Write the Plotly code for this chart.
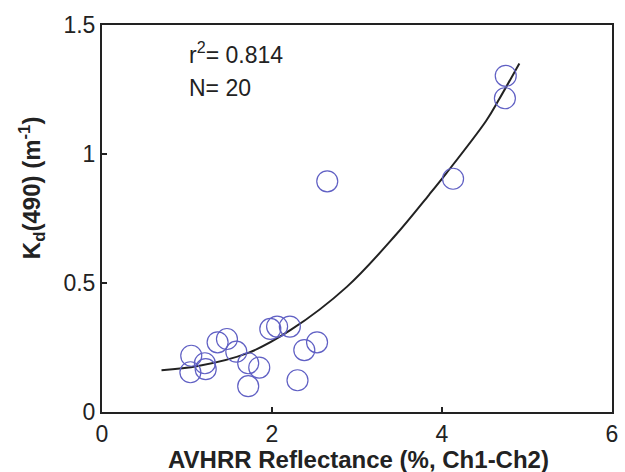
import plotly.graph_objects as go

# Observed data points (AVHRR reflectance %, Kd(490))
obs_x = [1.05, 1.04, 1.21, 1.22, 1.36, 1.47, 1.58, 1.72, 1.85, 1.72,
         1.98, 2.06, 2.21, 2.38, 2.53, 2.30, 2.65, 4.13, 4.75, 4.74]
obs_y = [0.218, 0.154, 0.189, 0.166, 0.270, 0.283, 0.234, 0.189, 0.172, 0.100,
         0.322, 0.331, 0.331, 0.240, 0.270, 0.123, 0.894, 0.904, 1.303, 1.216]

# Regression curve
fit_x = [0.70, 1.13, 1.72, 2.22, 2.88, 3.45, 3.85, 4.05, 4.52, 4.67, 4.91]
fit_y = [0.162, 0.178, 0.229, 0.318, 0.485, 0.684, 0.843, 0.925, 1.129, 1.211, 1.351]

x_ticks = [0, 2, 4, 6]
y_ticks = [0, 0.5, 1, 1.5]
y_tick_text = ["0", "0.5", "1", "1.5"]

FONT = "Liberation Sans, Arial, sans-serif"
INK = "#222222"

fig = go.Figure()
fig.add_trace(go.Scatter(
    x=fit_x, y=fit_y, mode="lines",
    line=dict(color=INK, width=2, shape="spline", smoothing=1.0),
    showlegend=False, hoverinfo="skip"))
fig.add_trace(go.Scatter(
    x=obs_x, y=obs_y, mode="markers",
    marker=dict(symbol="circle-open", size=21, color="#6060c4",
                line=dict(width=1.2, color="#6060c4")),
    showlegend=False))

axis_common = dict(showline=True, mirror=True, linecolor=INK, linewidth=2,
                   ticks="inside", ticklen=5, tickcolor=INK, tickwidth=1.5,
                   showgrid=False, zeroline=False,
                   tickfont=dict(family=FONT, size=23, color=INK))

fig.update_xaxes(range=[0, 6], tickvals=x_ticks, ticktext=[str(v) for v in x_ticks],
                 ticklabelstandoff=0, **axis_common)
fig.update_yaxes(range=[0, 1.5], tickvals=y_ticks, ticktext=y_tick_text,
                 **axis_common)

fig.update_layout(
    width=625, height=472,
    margin=dict(l=102, r=7, t=25, b=60),
    paper_bgcolor="white", plot_bgcolor="white",
    font=dict(family=FONT, color=INK),
    annotations=[
        dict(text="r<sup>2</sup>= 0.814", x=1.0, y=1.392, xref="x", yref="y",
             xanchor="left", yanchor="middle", showarrow=False,
             font=dict(family=FONT, size=23, color=INK)),
        dict(text="N= 20", x=1.0, y=1.256, xref="x", yref="y",
             xanchor="left", yanchor="middle", showarrow=False,
             font=dict(family=FONT, size=23, color=INK)),
        dict(text="<b>AVHRR Reflectance (%, Ch1-Ch2)</b>", x=0.502, y=-0.123,
             xref="paper", yref="paper", xanchor="center", yanchor="middle",
             showarrow=False, font=dict(family=FONT, size=24, color=INK)),
        dict(text="<b>K<sub>d</sub>(490) (m<sup>-1</sup>)</b>", x=-0.138, y=0.58,
             xref="paper", yref="paper", xanchor="center", yanchor="middle",
             textangle=-90, showarrow=False,
             font=dict(family=FONT, size=24, color=INK)),
    ],
)

fig.write_html("out.html")
